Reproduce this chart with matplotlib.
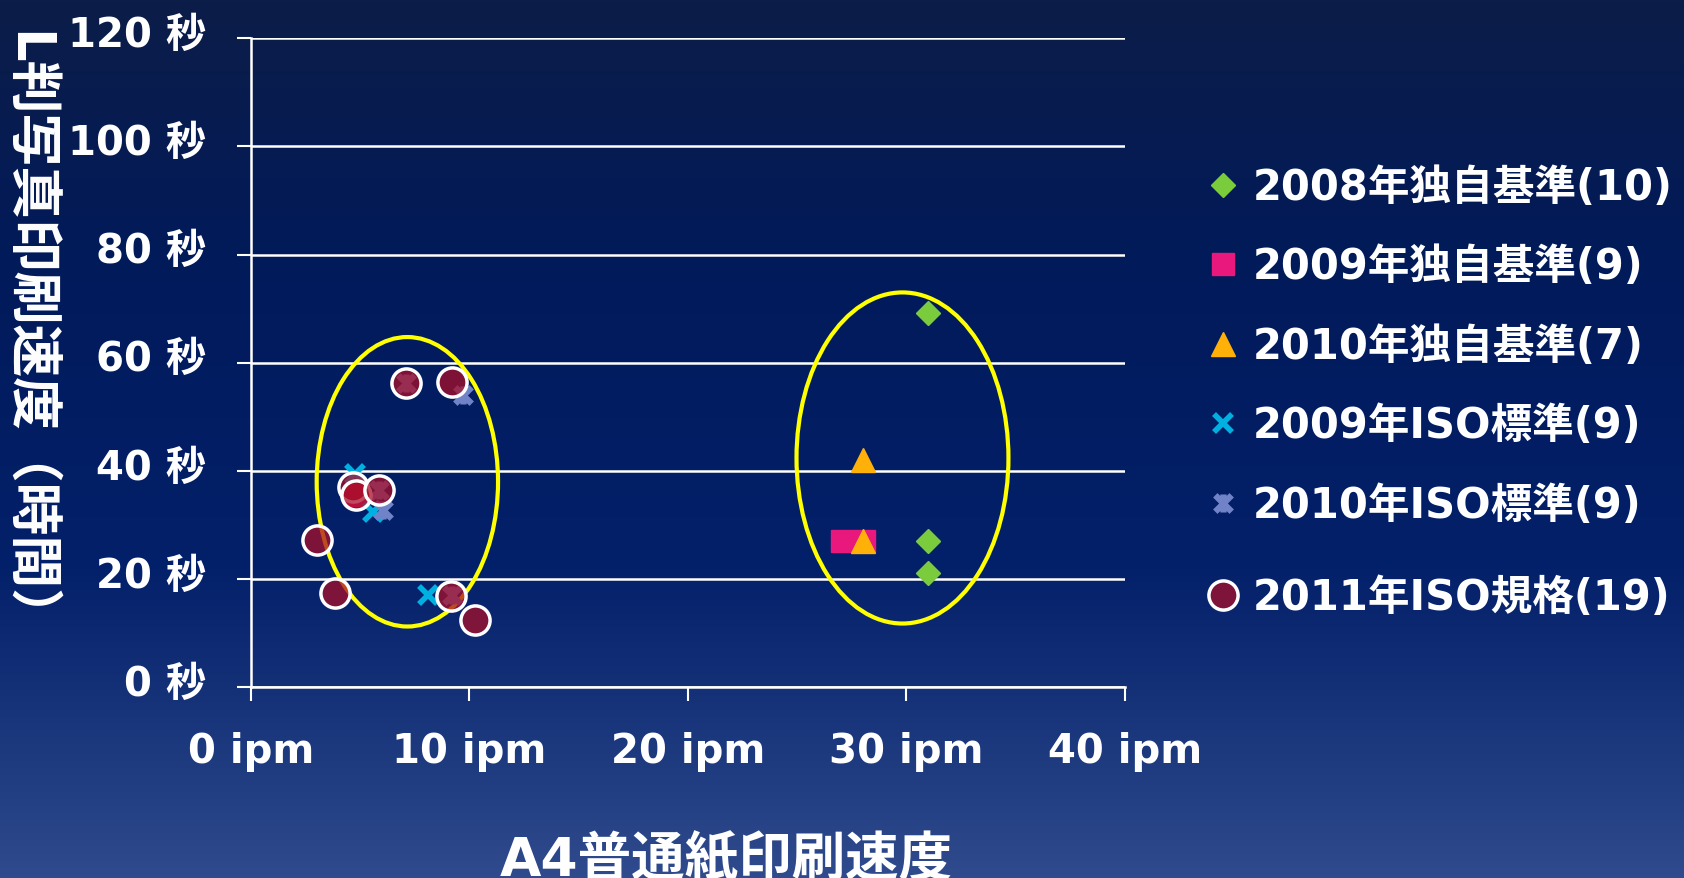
import matplotlib.pyplot as plt
import numpy as np
from matplotlib.patches import Ellipse
from matplotlib.path import Path
from matplotlib.colors import LinearSegmentedColormap
from matplotlib.transforms import ScaledTranslation

plt.rcParams['font.family'] = ['DejaVu Sans', 'Noto Sans CJK JP']
plt.rcParams['font.weight'] = 'bold'

# series data (x = ipm, y = seconds)
labels = ['2008年独自基準(10)', '2009年独自基準(9)', '2010年独自基準(7)',
          '2009年ISO標準(9)', '2010年ISO標準(9)', '2011年ISO規格(19)']

x_2008 = [31.0, 31.0, 31.0]
y_2008 = [69.2, 27.1, 21.1]

x_2009 = [27.05, 28.07, 4.8]
y_2009 = [27.1, 27.1, 35.6]

x_2010 = [28.0, 28.0]
y_2010 = [42.1, 27.0]

x_iso09 = [8.1, 4.75, 5.6]
y_iso09 = [17.1, 39.5, 32.5]

x_iso10 = [6.05, 9.7, 7.1, 5.85, 9.2]
y_iso10 = [32.8, 54.1, 56.3, 36.5, 17.0]

x_iso11 = [7.12, 9.21, 4.67, 4.83, 5.85, 3.02, 3.87, 9.18, 10.25]
y_iso11 = [56.3, 56.4, 37.1, 35.6, 36.5, 27.3, 17.4, 16.8, 12.5]

xticks = [0, 10, 20, 30, 40]
yticks = [0, 20, 40, 60, 80, 100, 120]

# highlight ellipses: (cx, cy, width, height)
ellipses = [(7.16, 38.0, 8.3, 53.5), (29.82, 42.4, 9.7, 61.2)]

fig = plt.figure(figsize=(16.84, 8.785), dpi=100)

# background gradient
bg = fig.add_axes([0, 0, 1, 1], zorder=-10)
cmap = LinearSegmentedColormap.from_list('bg', [(0, '#0c1d48'), (0.3, '#011a5a'),
                                                (0.65, '#03206a'), (1.0, '#2f4b8d')])
bg.imshow(np.linspace(0, 1, 256).reshape(-1, 1), aspect='auto', cmap=cmap,
          extent=[0, 1, 1, 0])
bg.axis('off')

ax = fig.add_axes([0.149, 0.217, 0.519, 0.739])
ax.patch.set_alpha(0)

for cx, cy, w, h in ellipses:
    ax.add_patch(Ellipse((cx, cy), w, h, fill=False, edgecolor='#ffff00', lw=3, zorder=2))

star = Path([(-1, -1), (1, 1), (-1, 1), (1, -1), (0, -1.1), (0, 1.1)],
            [Path.MOVETO, Path.LINETO, Path.MOVETO, Path.LINETO, Path.MOVETO, Path.LINETO])

h1, = ax.plot(x_2008, y_2008, ls='none', marker='D', ms=12, color='#7acc3c', zorder=3)
h2, = ax.plot(x_2009, y_2009, ls='none', marker='s', ms=16, color='#e8187c', zorder=3)
h3, = ax.plot(x_2010, y_2010, ls='none', marker='^', ms=17, color='#ffb10a', zorder=3)
h4, = ax.plot(x_iso09, y_iso09, ls='none', marker='x', ms=13, mew=4, color='#00b0e0', zorder=3)
h5, = ax.plot(x_iso10, y_iso10, ls='none', marker=star, ms=13, mew=4.5, color='#7083c8', zorder=3)
h6, = ax.plot(x_iso11, y_iso11, ls='none', marker='o', ms=21, mew=2.5, mec='white',
              mfc=(168 / 255, 15 / 255, 41 / 255, 0.75), zorder=4)

ax.set_xlim(0, 40)
ax.set_ylim(0, 120)
ax.set_xticks(xticks)
ax.set_xticklabels([f'{v} ipm' for v in xticks])
ax.set_yticks(yticks)
ax.set_yticklabels([f'{v} 秒' for v in yticks])
ax.tick_params(axis='y', colors='white', direction='out', length=10, width=1.5, pad=22, labelsize=29)
ax.tick_params(axis='x', colors='white', direction='out', length=10, width=1.5, pad=22, labelsize=29)
shift = ScaledTranslation(0, 0.075, fig.dpi_scale_trans)
for lab in ax.get_yticklabels():
    lab.set_transform(lab.get_transform() + shift)

ax.grid(axis='y', color='white', lw=1.8)
ax.set_axisbelow(True)
for s in ['top', 'right']:
    ax.spines[s].set_visible(False)
for s in ['left', 'bottom']:
    ax.spines[s].set_color('white')
    ax.spines[s].set_linewidth(1.8)

fig.text(0.016, 0.615, 'L判写真印刷速度（時間）', rotation=-90, ha='center', va='center',
         color='white', fontsize=38)
fig.text(0.431, 0.049, 'A4普通紙印刷速度', ha='center', va='top', color='white', fontsize=38.5)

leg_kw = dict(bbox_transform=fig.transFigure, frameon=False, fontsize=30, numpoints=1,
              handlelength=1.0, handletextpad=0.22, borderpad=0, borderaxespad=0,
              loc='upper left', labelcolor='white')
leg1 = ax.legend([h1, h2, h3, h4, h5], labels[:5], bbox_to_anchor=(0.714, 0.810),
                 labelspacing=0.9, **leg_kw)
ax.add_artist(leg1)
ax.legend([h6], labels[5:], bbox_to_anchor=(0.714, 0.343), **leg_kw)

fig.savefig('out.png', dpi=100)
